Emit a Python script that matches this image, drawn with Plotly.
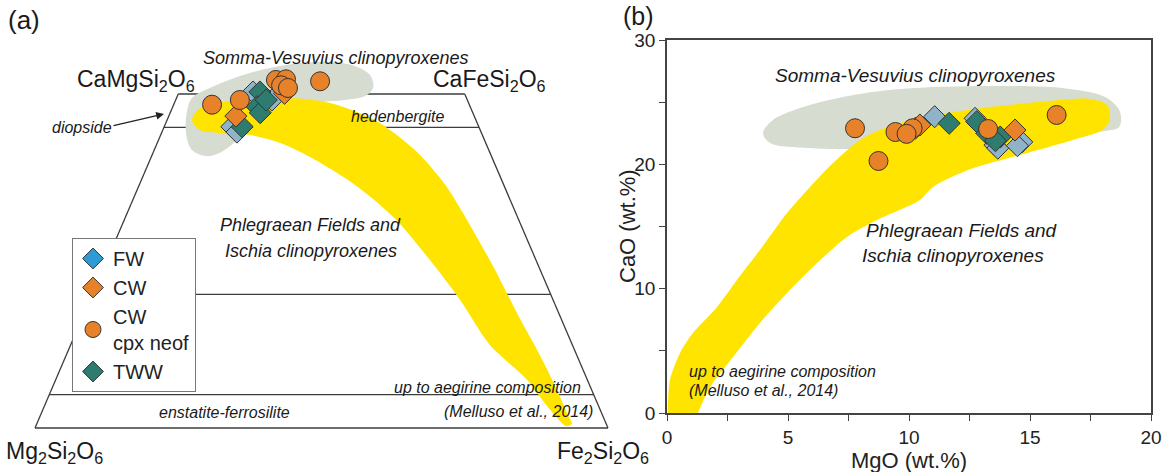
import numpy as np
import plotly.graph_objects as go

W, H = 1166, 472

# ---------------- DATA ----------------
# Panel (a): compositions (mol%) Wo / En / Fs
fw_wo = [45.1, 44.3, 50.3, 49.1]
fw_en = [43.1, 42.6, 36.8, 34.1]
fw_fs = [11.8, 13.1, 12.9, 16.8]

tww_wo = [50.3, 48.1, 47.2, 45.1, 49.1]
tww_en = [35.6, 37.2, 37.1, 41.3, 35.1]
tww_fs = [14.1, 14.7, 15.7, 13.6, 15.8]

cw_wo = [46.7, 50.1]
cw_en = [41.6, 31.4]
cw_fs = [11.7, 18.5]

cwn_wo = [48.4, 49.1, 52.1, 52.2, 51.3, 50.9, 51.9]
cwn_en = [44.9, 39.7, 31.9, 30.1, 31.4, 30.4, 24.3]
cwn_fs = [6.7, 11.2, 16.0, 17.7, 17.3, 18.7, 23.8]

# Panel (b): MgO vs CaO (wt.%)
fw_mgo = [11.06, 12.73, 13.55, 13.67, 14.66, 14.48]
fw_cao = [23.83, 23.7, 21.55, 21.3, 21.8, 21.5]
tww_mgo = [11.66, 12.80, 13.21, 13.77, 13.57]
tww_cao = [23.3, 23.43, 22.5, 22.2, 21.9]
cw_mgo = [10.26, 10.45, 14.38]
cw_cao = [22.9, 23.16, 22.76]
cwn_mgo = [7.77, 8.74, 9.44, 10.15, 9.9, 13.27, 16.1]
cwn_cao = [22.9, 20.27, 22.6, 22.9, 22.45, 22.84, 23.97]

# Literature fields, panel (a) in quadrilateral coords (x, Wo)
sv_a_x = [0.265, 0.274, 0.305, 0.358, 0.410, 0.462, 0.515, 0.558, 0.585, 0.590, 0.576, 0.541,
          0.497, 0.454, 0.410, 0.375, 0.349, 0.323, 0.297, 0.274, 0.264]
sv_a_wo = [47.3, 49.4, 50.9, 52.7, 53.9, 54.6, 54.8, 54.2, 52.8, 50.9, 49.7, 49.1,
           48.8, 48.2, 47.0, 45.06, 42.8, 41.2, 40.7, 41.6, 43.9]
pf_a_x = [0.288, 0.358, 0.445, 0.515, 0.593, 0.663, 0.716, 0.759, 0.803, 0.843, 0.881, 0.911, 0.930, 0.937,
          0.927, 0.895, 0.859, 0.794, 0.742, 0.703, 0.668, 0.634, 0.588, 0.541, 0.480, 0.428, 0.375,
          0.323, 0.288, 0.274]
pf_a_wo = [47.9, 49.1, 49.4, 48.65, 46.1, 41.6, 36.4, 30.4, 23.65, 16.9, 10.93, 5.69, 1.95, 0.6,
           0.3, 3.14, 7.19, 12.43, 19.16, 23.65, 27.4, 30.84, 34.43, 37.43, 40.57, 42.66, 43.86,
           44.16, 44.61, 46.1]

# Literature fields, panel (b) in MgO / CaO
sv_b_mgo = [3.97, 4.38, 5.50, 7.27, 9.63, 13.76, 16.65, 18.18, 18.72, 18.68, 18.1, 13.76, 9.63, 7.56, 5.91, 4.26]
sv_b_cao = [22.52, 23.57, 24.53, 25.42, 26.06, 26.3, 26.06, 25.34, 24.21, 23.0, 22.68, 22.12, 21.47, 21.23, 21.31, 21.72]
pf_b_mgo = [0.05, 0.04, 0.12, 0.54, 1.07, 2.07, 2.89, 3.84, 4.96, 5.91, 6.86, 7.98, 9.09, 10.45, 12.44, 15.33,
            17.48, 18.2, 18.3, 18.0, 16.78, 14.59, 12.44, 10.99, 10.45, 8.68, 7.44, 6.2, 4.96, 3.84,
            2.73, 1.78, 0.95, 0.5]
pf_b_cao = [-1, 0.4, 2.65, 4.83, 6.43, 8.53, 10.7, 13.11, 16.09, 18.18, 20.11, 21.96, 23.0, 23.73, 24.37, 25.01,
            25.26, 24.77, 23.57, 22.76, 21.96, 20.75, 19.54, 18.18, 17.13, 15.52, 14.16, 12.06, 9.65, 7.24,
            4.5, 2.09, -1, -1]

wo_levels = [0, 5, 20, 45, 50]
x_ticks_b = [0, 5, 10, 15, 20]
y_ticks_b = [0, 10, 20, 30]

# ---------------- STYLE ----------------
C_FW_PT = '#8fb3c8'
C_FW_LEG = '#2f9bd6'
C_CW = '#e8822a'
C_TWW = '#2e7b70'
C_GREY = '#d6dccf'
C_YEL = '#ffe400'
EDGE = '#333333'
LINE = '#3c3c3c'
FONT = 'Liberation Sans, Arial, sans-serif'

# panel (a) pixel anchors -> data ranges
PX_X0, PX_X1 = 35.0, 608.0      # base of quadrilateral
PX_Y0, PX_Y50 = 428.0, 94.0     # Wo = 0 and Wo = 50
A_DOM = [0, 0.55]
a_px_right = A_DOM[1] * W
ax_range = [(0 - PX_X0) / (PX_X1 - PX_X0), (a_px_right - PX_X0) / (PX_X1 - PX_X0)]
ay_range = [(PX_Y0 - H) / (PX_Y0 - PX_Y50) * 50, (PX_Y0 - 0) / (PX_Y0 - PX_Y50) * 50]

B_X = [667.0, 1151.0]
B_Y = [413.0, 40.0]


def quad_x(wo, fs):
    wo = np.asarray(wo, float)
    fs = np.asarray(fs, float)
    return fs / 100 + wo / 200


def px(x):
    return x / W


def py(y):
    return 1 - y / H


fig = go.Figure()

# quadrilateral frame (below traces)
shapes = []
for wo in wo_levels:
    shapes.append(dict(type='line', xref='x', yref='y', x0=wo / 200, x1=1 - wo / 200, y0=wo, y1=wo,
                       line=dict(color=LINE, width=1.3), layer='below'))
shapes.append(dict(type='line', xref='x', yref='y', x0=0, y0=0, x1=0.25, y1=50,
                   line=dict(color=LINE, width=1.3), layer='below'))
shapes.append(dict(type='line', xref='x', yref='y', x0=1, y0=0, x1=0.75, y1=50,
                   line=dict(color=LINE, width=1.3), layer='below'))
shapes.append(dict(type='line', xref='x', yref='y', x0=0.5, y0=45, x1=0.5, y1=50,
                   line=dict(color=LINE, width=1.3), layer='below'))

# fields panel a
fig.add_trace(go.Scatter(x=sv_a_x + sv_a_x[:1], y=sv_a_wo + sv_a_wo[:1], fill='toself', mode='lines',
                         line=dict(color=C_GREY, width=0, shape='spline', smoothing=1),
                         fillcolor=C_GREY, showlegend=False, hoverinfo='skip', xaxis='x', yaxis='y'))
fig.add_trace(go.Scatter(x=pf_a_x + pf_a_x[:1], y=pf_a_wo + pf_a_wo[:1], fill='toself', mode='lines',
                         line=dict(color=C_YEL, width=0, shape='spline', smoothing=0.8),
                         fillcolor=C_YEL, showlegend=False, hoverinfo='skip', xaxis='x', yaxis='y'))
# fields panel b
fig.add_trace(go.Scatter(x=sv_b_mgo + sv_b_mgo[:1], y=sv_b_cao + sv_b_cao[:1], fill='toself', mode='lines',
                         line=dict(color=C_GREY, width=0, shape='spline', smoothing=1),
                         fillcolor=C_GREY, showlegend=False, hoverinfo='skip', xaxis='x2', yaxis='y2'))
fig.add_trace(go.Scatter(x=pf_b_mgo + pf_b_mgo[:1], y=pf_b_cao + pf_b_cao[:1], fill='toself', mode='lines',
                         line=dict(color=C_YEL, width=0, shape='spline', smoothing=0.8),
                         fillcolor=C_YEL, showlegend=False, hoverinfo='skip', xaxis='x2', yaxis='y2'))

DS, CS = 17, 19
series = [
    (fw_wo, fw_fs, fw_mgo, fw_cao, 'diamond', C_FW_PT, DS),
    (tww_wo, tww_fs, tww_mgo, tww_cao, 'diamond', C_TWW, DS),
    (cw_wo, cw_fs, cw_mgo, cw_cao, 'diamond', C_CW, DS),
    (cwn_wo, cwn_fs, cwn_mgo, cwn_cao, 'circle', C_CW, CS),
]
for wo, fs, mg, ca, sym, col, size in series:
    fig.add_trace(go.Scatter(x=quad_x(wo, fs), y=wo, mode='markers', xaxis='x', yaxis='y',
                             marker=dict(symbol=sym, size=size, color=col, line=dict(color=EDGE, width=1)),
                             showlegend=False))
    fig.add_trace(go.Scatter(x=mg, y=ca, mode='markers', xaxis='x2', yaxis='y2',
                             marker=dict(symbol=sym, size=size, color=col, line=dict(color=EDGE, width=1)),
                             showlegend=False))

# legend entries
for name, sym, col in [('FW', 'diamond', C_FW_LEG), ('CW', 'diamond', C_CW),
                       ('CW<br>cpx neof', 'circle', C_CW), ('TWW', 'diamond', C_TWW)]:
    fig.add_trace(go.Scatter(x=[None], y=[None], mode='markers', name=name, xaxis='x', yaxis='y',
                             marker=dict(symbol=sym, size=16, color=col, line=dict(color=EDGE, width=1))))

ann = []


def txt(x, y, s, size, italic=False, xanchor='center', color='#1a1a1a', angle=0):
    ann.append(dict(x=px(x), y=py(y), xref='paper', yref='paper', text=('<i>%s</i>' % s) if italic else s,
                    showarrow=False, xanchor=xanchor, yanchor='middle', textangle=angle,
                    font=dict(family=FONT, size=size, color=color)))


txt(24, 20, '(a)', 26)
txt(639, 16, '(b)', 25)
txt(136, 80, 'CaMgSi<sub>2</sub>O<sub>6</sub>', 23)
txt(489, 80, 'CaFeSi<sub>2</sub>O<sub>6</sub>', 23)
txt(54, 452, 'Mg<sub>2</sub>Si<sub>2</sub>O<sub>6</sub>', 23)
txt(603, 452, 'Fe<sub>2</sub>Si<sub>2</sub>O<sub>6</sub>', 23)
txt(335, 58, 'Somma-Vesuvius clinopyroxenes', 18, True)
txt(398, 116, 'hedenbergite', 16, True)
txt(82, 127, 'diopside', 16, True)
txt(310, 225, 'Phlegraean Fields and', 18, True)
txt(311, 251, 'Ischia clinopyroxenes', 18, True)
txt(224, 412, 'enstatite-ferrosilite', 16, True)
txt(583, 387, 'up to aegirine composition', 16, True, 'right')
txt(595, 411, '(Melluso et al., 2014)', 16, True, 'right')

txt(915, 75, 'Somma-Vesuvius clinopyroxenes', 19, True)
txt(962, 231, 'Phlegraean Fields and', 19, True)
txt(953, 255, 'Ischia clinopyroxenes', 19, True)
txt(687, 371, 'up to aegirine composition', 16, True, 'left')
txt(687, 390, '(Melluso et al., 2014)', 16, True, 'left')

# axis titles of panel (b)
txt(627, 226, 'CaO (wt.%)', 22, angle=-90, color='#222')
txt(909, 460, 'MgO (wt.%)', 22, color='#222')

# diopside arrow (tail offset given in pixels)
ann.append(dict(x=px(164), y=py(114), xref='paper', yref='paper', ax=112 - 164, ay=126 - 114,
                axref='pixel', ayref='pixel', text='', showarrow=True, arrowhead=2, arrowsize=1.3,
                arrowwidth=1.2, arrowcolor='#222'))

fig.update_layout(
    width=W, height=H, margin=dict(l=0, r=0, t=0, b=0, pad=0, autoexpand=False),
    paper_bgcolor='white', plot_bgcolor='rgba(0,0,0,0)',
    font=dict(family=FONT, color='#222'),
    shapes=shapes, annotations=ann,
    xaxis=dict(domain=A_DOM, range=ax_range, visible=False, fixedrange=True, automargin=False),
    yaxis=dict(domain=[0, 1], range=ay_range, visible=False, fixedrange=True, automargin=False),
    xaxis2=dict(domain=[px(B_X[0]), px(B_X[1])], range=[0, 20], anchor='y2', automargin=False,
                tickvals=x_ticks_b, ticks='outside', ticklen=6, tickcolor='#444',
                minor=dict(dtick=2.5, ticks='outside', ticklen=6, tickcolor='#444'),
                showline=True, linecolor='#444', linewidth=1.5, mirror=True, showgrid=False, zeroline=False,
                tickfont=dict(size=19, family=FONT, color='#222')),
    yaxis2=dict(domain=[py(B_Y[0]), py(B_Y[1])], range=[0, 30], anchor='x2', automargin=False,
                tickvals=y_ticks_b, ticks='outside', ticklen=6, tickcolor='#444',
                minor=dict(dtick=5, ticks='outside', ticklen=6, tickcolor='#444'),
                showline=True, linecolor='#444', linewidth=1.5, mirror=True, showgrid=False, zeroline=False,
                tickfont=dict(size=19, family=FONT, color='#222')),
    legend=dict(x=px(72), y=py(238), xanchor='left', yanchor='top', bgcolor='white',
                bordercolor='#777', borderwidth=1, font=dict(size=20, family=FONT, color='#222'),
                tracegroupgap=0, itemwidth=30),
    showlegend=True,
)

fig.write_html('out.html', config={'displayModeBar': False},
               post_script="document.body.style.margin='0px';")
